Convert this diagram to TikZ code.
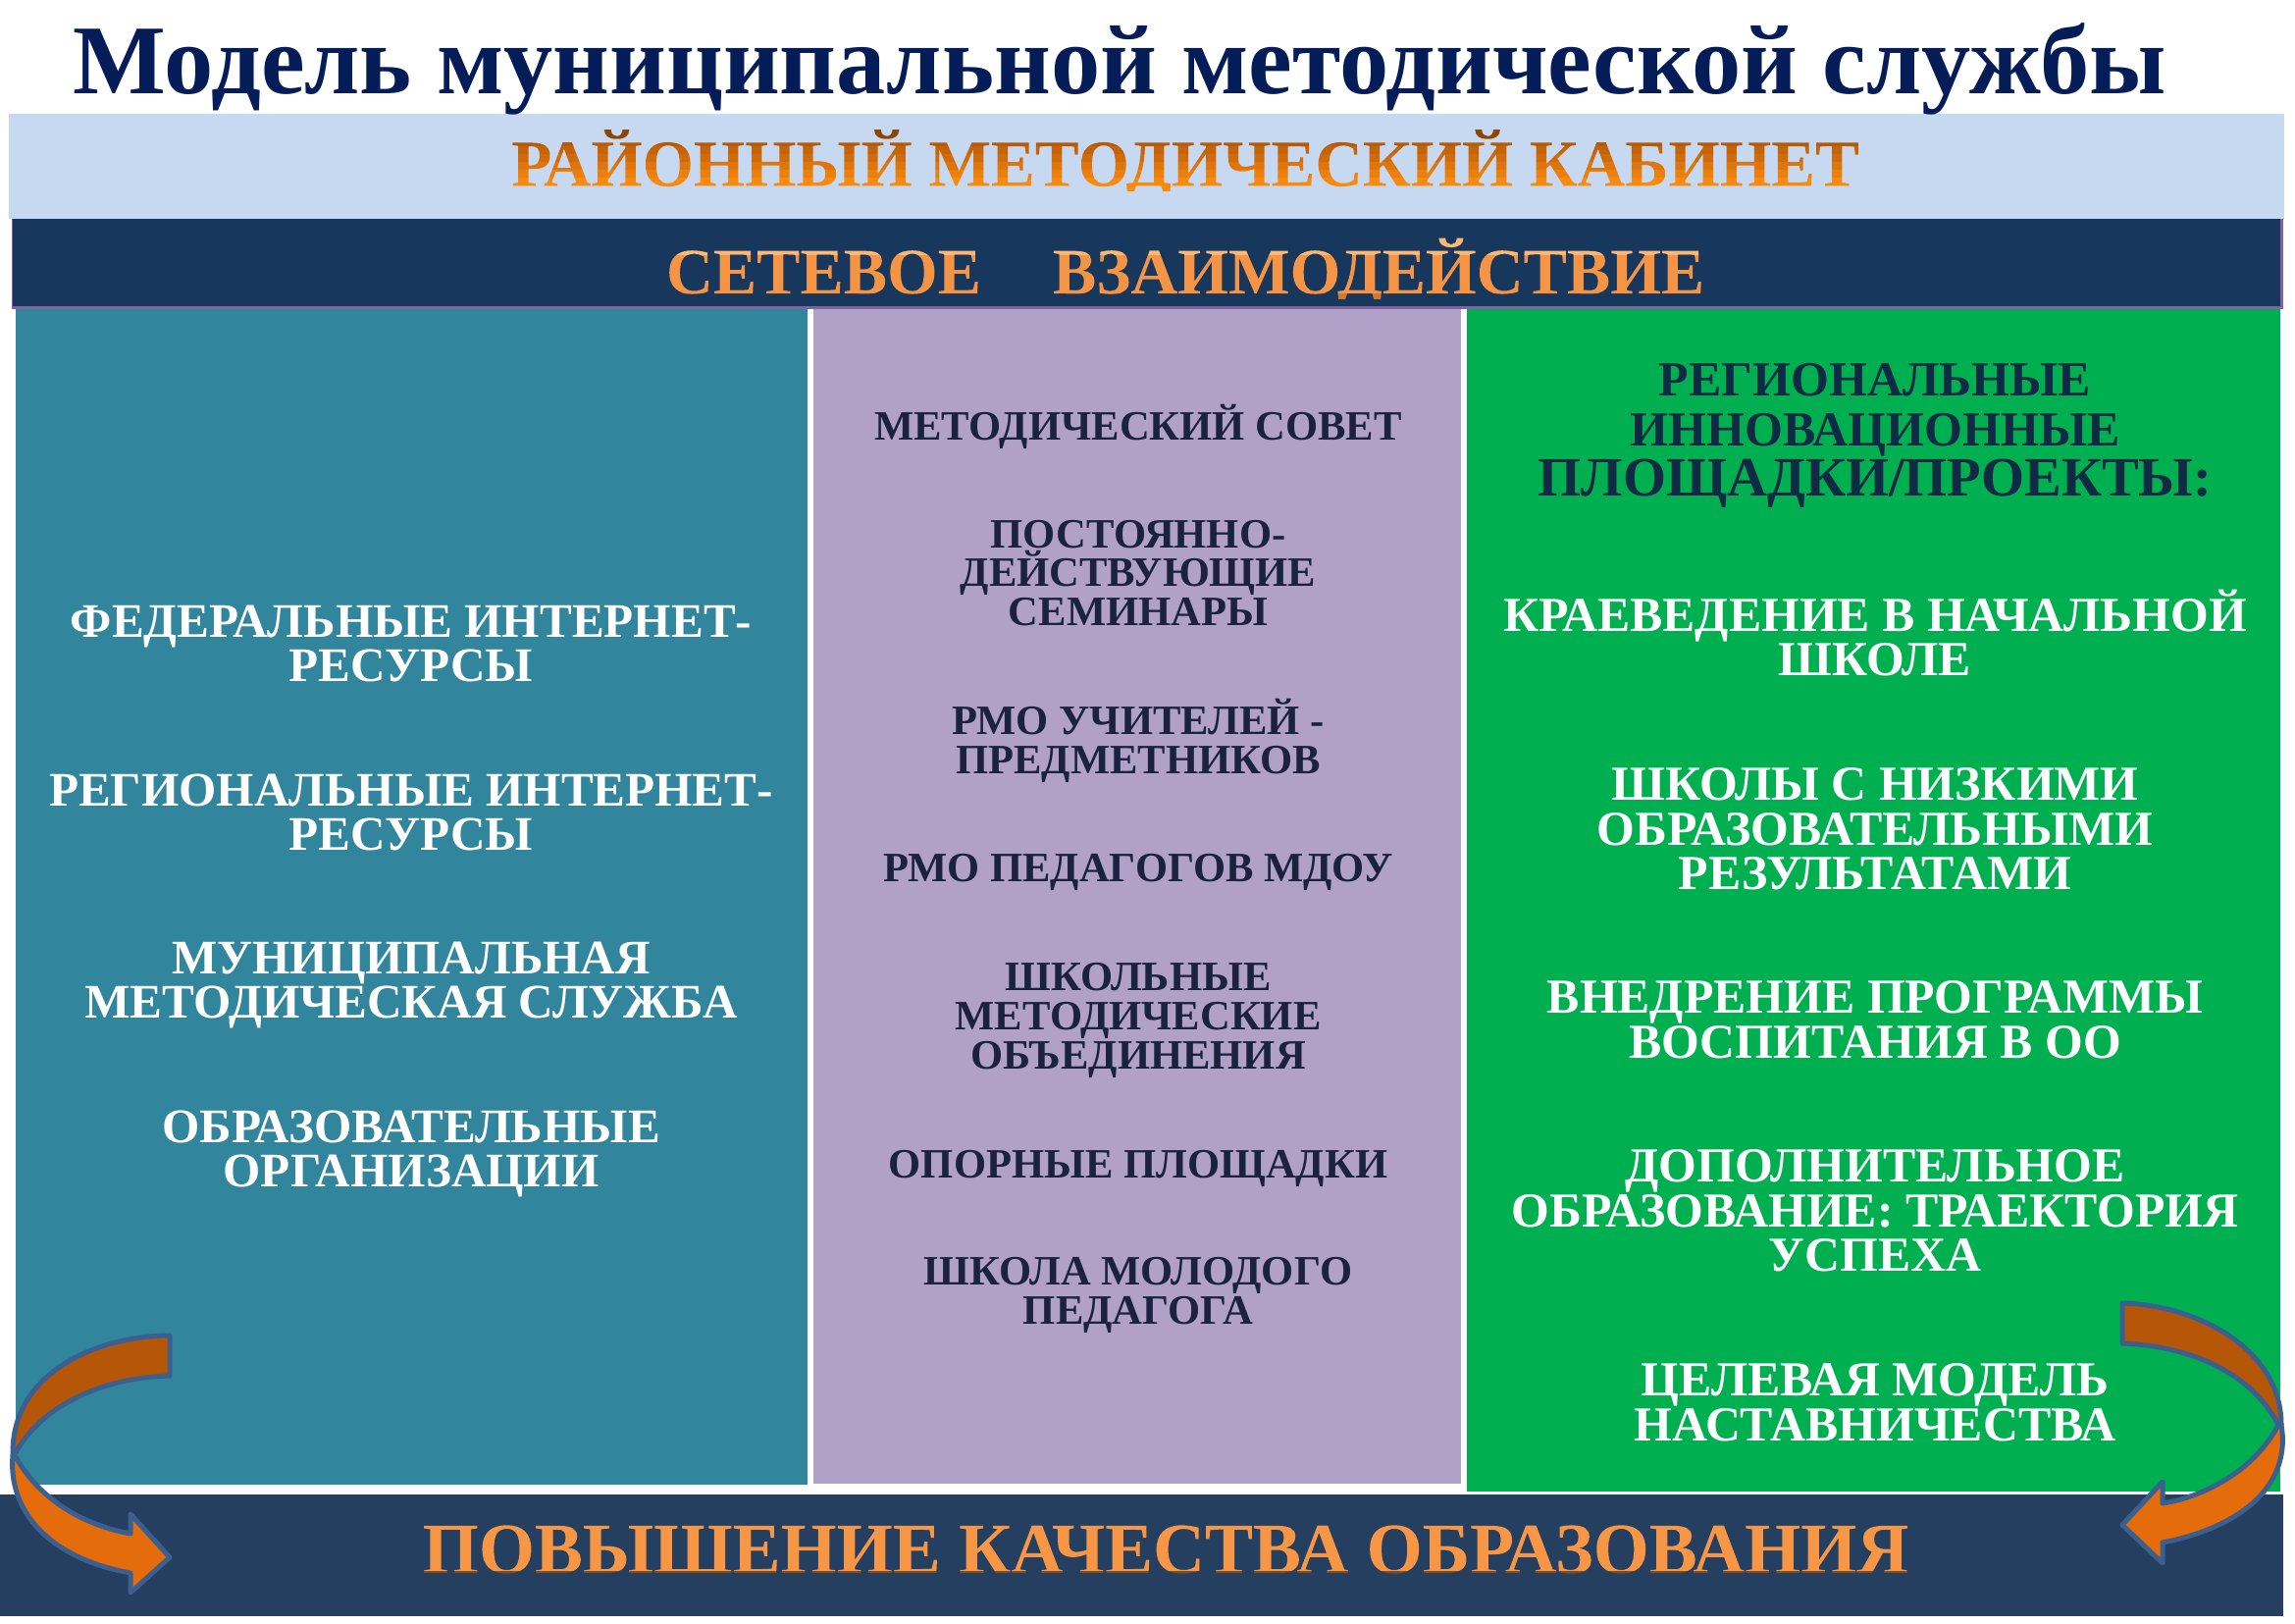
\documentclass[tikz,border=0pt]{standalone}
\usepackage{fontspec}
\setmainfont{Liberation Serif}
\definecolor{titlec}{HTML}{041C58}
\definecolor{lightbar}{HTML}{C6D9F0}
\definecolor{darkbar}{HTML}{17375D}
\definecolor{botbar}{HTML}{243F60}
\definecolor{teal}{HTML}{31859C}
\definecolor{lilac}{HTML}{B1A0C7}
\definecolor{greenp}{HTML}{00B050}
\definecolor{purpleedge}{HTML}{8064A2}
\definecolor{inkdark}{HTML}{1A2240}
\definecolor{inkgreen}{HTML}{0F2A45}
\definecolor{orangeA}{HTML}{E46C0A}
\definecolor{orangeB}{HTML}{B65708}
\definecolor{arrowline}{HTML}{3B5F8F}
\def\band#1#2#3#4#5{#1 #2 #3 rg -1400 #4 1400 #5 re f }
\newcommand\gradtxt[2]{\special{pdf:code q 7 Tr}#2\special{pdf:content #1}\special{pdf:code 0 Tr Q}}
\tikzset{
 x=0.5pt,y=-0.5pt,
 ltxt/.style={align=center,text=white,font=\fontsize{24.6}{22.8}\selectfont\bfseries,inner sep=0},
 mtxt/.style={align=center,text=inkdark,font=\fontsize{21.3}{19.8}\selectfont\bfseries,inner sep=0},
 rtxt/.style={align=center,text=white,font=\fontsize{24.9}{22.8}\selectfont\bfseries,inner sep=0},
 gtxt/.style={align=center,text=inkgreen,font=\fontsize{25}{25.4}\selectfont\bfseries,inner sep=0},
 arrowpart/.style={draw=arrowline,line width=2.5pt,line join=round},
}
\begin{document}
\begin{tikzpicture}
\useasboundingbox (0,0) rectangle (2339,1654);
\fill[white] (0,0) rectangle (2339,1654);
\fill[lightbar] (9,116) rectangle (2328,223);
\fill[purpleedge] (12,223) rectangle (2327,315);
\fill[darkbar] (13,223) rectangle (2324,312);
\fill[teal] (16,315) rectangle (823,1513);
\fill[lilac] (829,315) rectangle (1489,1512);
\fill[greenp] (1495,315) rectangle (2324,1520);
\fill[botbar] (0,1523) rectangle (2327,1647);

\node[inner sep=0,text=titlec,font=\fontsize{50.2}{50}\selectfont\bfseries] (title) at (1141,70) {Модель муниципальной методической службы};
\node[inner sep=0,font=\fontsize{33.6}{34}\selectfont\bfseries] (rmk) at (1208,168) {\gradtxt{\band{.97}{.54}{.06}{-3}{7.2}\band{.92}{.50}{.05}{4}{4.2}\band{.87}{.46}{.05}{8}{4.2}\band{.82}{.42}{.04}{12}{4.2}\band{.77}{.39}{.03}{16}{4.2}\band{.72}{.35}{.02}{20}{4.2}\band{.55}{.27}{.02}{24}{12}}{РАЙОННЫЙ МЕТОДИЧЕСКИЙ КАБИНЕТ}};
\node[inner sep=0,font=\fontsize{33.2}{34}\selectfont\bfseries] (net) at (1208,278) {\gradtxt{\band{.80}{.48}{.20}{-3}{3.4}\band{.96}{.58}{.27}{0}{19.8}\band{.99}{.72}{.46}{19.5}{12}}{СЕТЕВОЕ\hspace{1.1em}ВЗАИМОДЕЙСТВИЕ}};
\node[inner sep=0,font=\fontsize{36.7}{37}\selectfont\bfseries] (qual) at (1188,1579) {\gradtxt{\band{.50}{.30}{.12}{-3}{3.9}\band{.97}{.59}{.27}{.8}{36}}{ПОВЫШЕНИЕ КАЧЕСТВА ОБРАЗОВАНИЯ}};

\node[ltxt] (l1) at (419,656) {ФЕДЕРАЛЬНЫЕ ИНТЕРНЕТ-\\РЕСУРСЫ};
\node[ltxt] (l2) at (419,828) {РЕГИОНАЛЬНЫЕ ИНТЕРНЕТ-\\РЕСУРСЫ};
\node[ltxt] (l3) at (419,1004) {МУНИЦИПАЛЬНАЯ\\МЕТОДИЧЕСКАЯ СЛУЖБА};
\node[ltxt] (l4) at (419,1176) {ОБРАЗОВАТЕЛЬНЫЕ\\ОРГАНИЗАЦИИ};

\node[mtxt] (m1) at (1160,435) {МЕТОДИЧЕСКИЙ СОВЕТ};
\node[mtxt] (m2) at (1160,584) {ПОСТОЯННО-\\ДЕЙСТВУЮЩИЕ\\СЕМИНАРЫ};
\node[mtxt] (m3) at (1160,755) {РМО УЧИТЕЛЕЙ -\\ПРЕДМЕТНИКОВ};
\node[mtxt] (m4) at (1160,889) {РМО ПЕДАГОГОВ МДОУ};
\node[mtxt] (m5) at (1160,1040) {ШКОЛЬНЫЕ\\МЕТОДИЧЕСКИЕ\\ОБЪЕДИНЕНИЯ};
\node[mtxt] (m6) at (1160,1191) {ОПОРНЫЕ ПЛОЩАДКИ};
\node[mtxt] (m7) at (1160,1320) {ШКОЛА МОЛОДОГО\\ПЕДАГОГА};

\node[gtxt] (r0) at (1911,444) {РЕГИОНАЛЬНЫЕ\\ИННОВАЦИОННЫЕ\\{\fontsize{28.3}{25.4}\selectfont ПЛОЩАДКИ/ПРОЕКТЫ:}};
\node[rtxt] (r1) at (1911,645) {КРАЕВЕДЕНИЕ В НАЧАЛЬНОЙ\\ШКОЛЕ};
\node[rtxt] (r2) at (1911,845) {ШКОЛЫ С НИЗКИМИ\\ОБРАЗОВАТЕЛЬНЫМИ\\РЕЗУЛЬТАТАМИ};
\node[rtxt] (r3) at (1911,1039) {ВНЕДРЕНИЕ ПРОГРАММЫ\\ВОСПИТАНИЯ В ОО};
\node[rtxt] (r4) at (1911,1234) {ДОПОЛНИТЕЛЬНОЕ\\ОБРАЗОВАНИЕ: ТРАЕКТОРИЯ\\УСПЕХА};
\node[rtxt] (r5) at (1911,1429) {ЦЕЛЕВАЯ МОДЕЛЬ\\НАСТАВНИЧЕСТВА};

% left arrow
\draw[arrowpart,fill=orangeB] (173,1361) .. controls (105,1361) and (12,1395) .. (13,1482)
  -- (15,1482) .. controls (40,1435) and (100,1404) .. (173,1402) -- cycle;
\draw[arrowpart,fill=orangeA] (13,1483) .. controls (8,1540) and (50,1588) .. (133,1603)
  -- (133,1623) -- (173,1587) -- (133,1543) -- (133,1563)
  .. controls (80,1553) and (38,1525) .. (15,1483) -- cycle;
% right arrow
\draw[arrowpart,fill=orangeB] (2163,1328) .. controls (2240,1330) and (2325,1375) .. (2325,1452)
  -- (2322,1452) .. controls (2295,1400) and (2235,1372) .. (2163,1369) -- cycle;
\draw[arrowpart,fill=orangeA] (2325,1452) .. controls (2335,1510) and (2290,1555) .. (2204,1572)
  -- (2204,1593) -- (2163,1554) -- (2204,1510) -- (2204,1532)
  .. controls (2250,1525) and (2300,1495) .. (2322,1452) -- cycle;
\end{tikzpicture}
\end{document}
